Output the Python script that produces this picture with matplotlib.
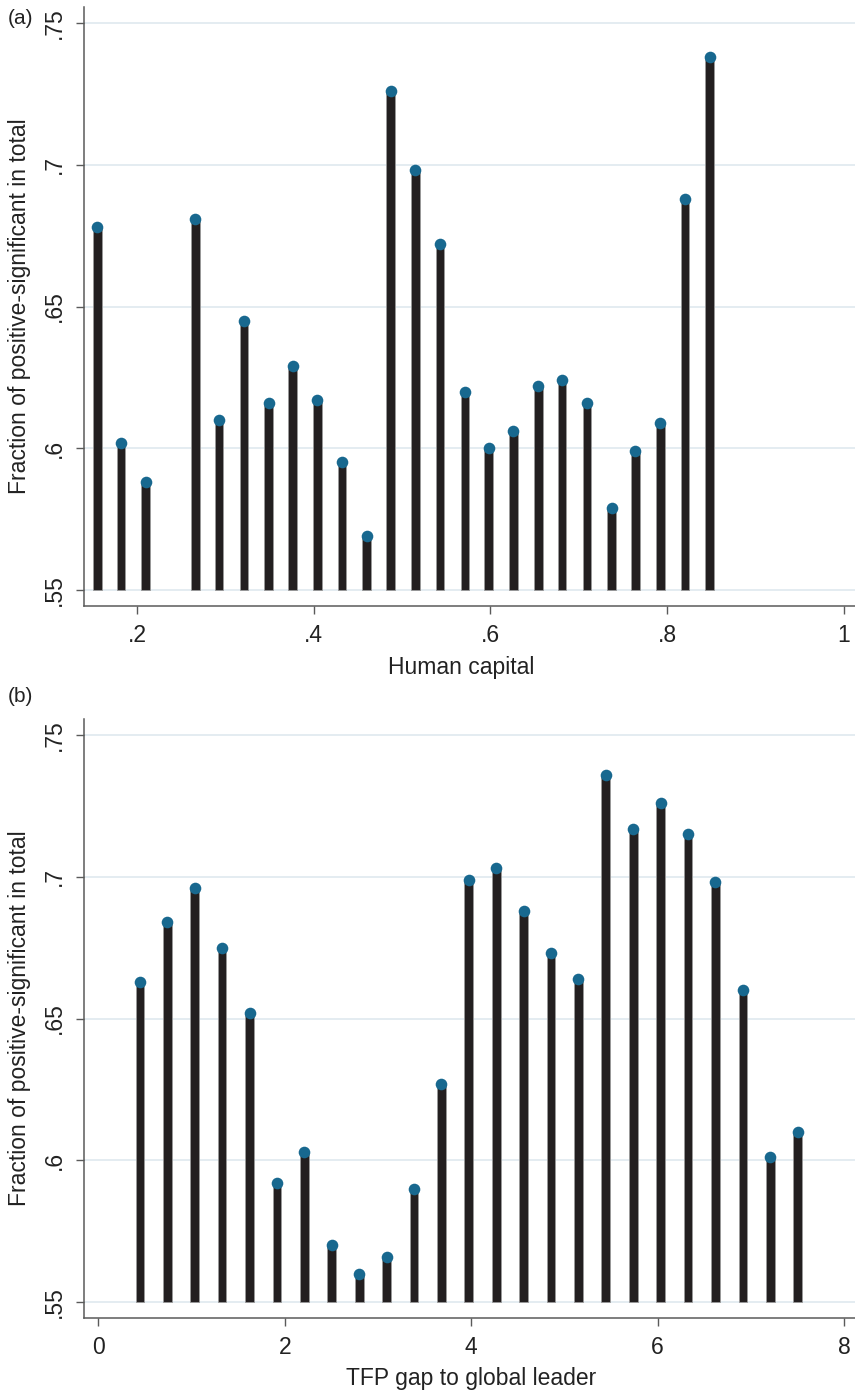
import numpy as np
import matplotlib
matplotlib.use("Agg")
import matplotlib.pyplot as plt

plt.rcParams['font.family'] = ['Liberation Sans', 'DejaVu Sans']

# Panel (a): human capital bins
hc_x = [0.155, 0.182, 0.210, 0.266, 0.293, 0.321, 0.349, 0.376, 0.404, 0.432,
        0.460, 0.487, 0.515, 0.543, 0.571, 0.598, 0.626, 0.654, 0.681, 0.709,
        0.737, 0.764, 0.792, 0.820, 0.848]
hc_y = [0.678, 0.602, 0.588, 0.681, 0.610, 0.645, 0.616, 0.629, 0.617, 0.595,
        0.569, 0.726, 0.698, 0.672, 0.620, 0.600, 0.606, 0.622, 0.624, 0.616,
        0.579, 0.599, 0.609, 0.688, 0.738]

# Panel (b): TFP gap bins
tfp_x = [0.447, 0.741, 1.035, 1.329, 1.623, 1.917, 2.211, 2.505, 2.799, 3.093,
         3.387, 3.681, 3.975, 4.269, 4.563, 4.857, 5.151, 5.445, 5.739, 6.033,
         6.327, 6.621, 6.915, 7.209, 7.503]
tfp_y = [0.663, 0.684, 0.696, 0.675, 0.652, 0.592, 0.603, 0.570, 0.560, 0.566,
         0.590, 0.627, 0.699, 0.703, 0.688, 0.673, 0.664, 0.736, 0.717, 0.726,
         0.715, 0.698, 0.660, 0.601, 0.610]

yticks = [0.55, 0.6, 0.65, 0.7, 0.75]
ytick_labels = ['.55', '.6', '.65', '.7', '.75']
hc_ticks = [0.2, 0.4, 0.6, 0.8, 1.0]
hc_tick_labels = ['.2', '.4', '.6', '.8', '1']
tfp_ticks = [0, 2, 4, 6, 8]
tfp_tick_labels = ['0', '2', '4', '6', '8']

base = 0.55
stem_col = '#231f20'
dot_col = '#18688f'
grid_col = '#e2eaf0'
axis_col = '#5a5a5a'
txt_col = '#222222'
fs = 16.5
W, H = 855, 1395

fig = plt.figure(figsize=(W / 100, H / 100), dpi=100)


def panel(rect, x, y, xlim, xticks, xlabels, bar_w):
    ax = fig.add_axes(rect)
    ax.set_xlim(*xlim)
    ax.set_ylim(0.54435, 0.75565)
    for v in yticks:
        ax.axhline(v, color=grid_col, lw=1.3, zorder=0)
    ax.bar(x, np.array(y) - base, bottom=base, width=bar_w, color=stem_col,
           edgecolor='#9a9a9a', linewidth=0.6, zorder=2)
    ax.scatter(x, y, s=70, color=dot_col, zorder=3, linewidths=0)
    ax.set_yticks(yticks)
    ax.set_yticklabels(ytick_labels, rotation=90, va='center', fontsize=fs, color=txt_col)
    ax.set_xticks(xticks)
    ax.set_xticklabels(xlabels, fontsize=fs, color=txt_col)
    ax.tick_params(direction='out', length=6, width=1, color=axis_col, pad=7)
    for s in ['top', 'right']:
        ax.spines[s].set_visible(False)
    for s in ['left', 'bottom']:
        ax.spines[s].set_color(axis_col)
        ax.spines[s].set_linewidth(1.1)
    return ax


# top panel: plot area from x=84..855 px, y=7..606 px
panel([84 / W, 1 - 606 / H, 771 / W, 599 / H], hc_x, hc_y,
      (0.1401, 1.0124), hc_ticks, hc_tick_labels, 0.0098)
# bottom panel: y=719..1318 px
panel([84 / W, 1 - 1318 / H, 771 / W, 599 / H], tfp_x, tfp_y,
      (-0.153, 8.118), tfp_ticks, tfp_tick_labels, 0.093)

ylab = 'Fraction of positive-significant in total'
fig.text(20 / W, 1 - 306 / H, ylab, rotation=90, ha='center', va='center',
         fontsize=fs, color=txt_col)
fig.text(20 / W, 1 - 1018 / H, ylab, rotation=90, ha='center', va='center',
         fontsize=fs, color=txt_col)
fig.text(461 / W, 1 - 667 / H, 'Human capital', ha='center', va='center',
         fontsize=fs, color=txt_col)
fig.text(471 / W, 1 - 1378 / H, 'TFP gap to global leader', ha='center', va='center',
         fontsize=fs, color=txt_col)
fig.text(8 / W, 1 - 18 / H, '(a)', ha='left', va='center', fontsize=15, color=txt_col)
fig.text(8 / W, 1 - 697 / H, '(b)', ha='left', va='center', fontsize=15, color=txt_col)

fig.savefig('out.png', dpi=100)
